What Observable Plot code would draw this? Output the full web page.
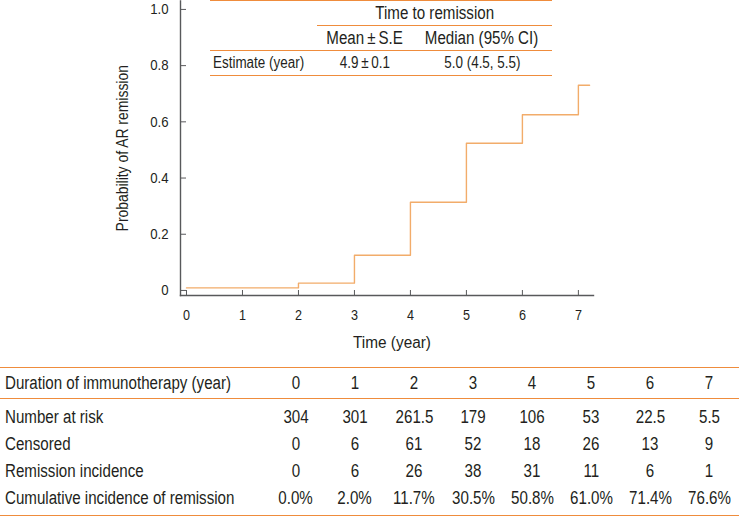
<!DOCTYPE html>
<html><head><meta charset="utf-8">
<script src="https://cdn.jsdelivr.net/npm/d3@7"></script>
<script src="https://cdn.jsdelivr.net/npm/@observablehq/plot@0.6"></script>
<style>
body{margin:0;background:#fff;font-family:"Liberation Sans",Arial,sans-serif;color:#231f20;}
#wrap{position:relative;width:739px;height:517px;overflow:hidden;background:#fff}
#chart{height:355px}
span.s{display:inline-block;transform:scaleX(0.84);transform-origin:50% 50%}
td.lab span.s{transform-origin:0 50%}
#inset{position:absolute;left:210px;top:0;width:342px;border-collapse:collapse;font-size:16px;table-layout:fixed}
#inset td{padding:0;height:24px;text-align:center;white-space:nowrap}
#inset tr.r1 td, #inset tr.r2 td{font-size:18px}
#inset td.lab{text-align:left;padding-left:3px}
#inset tr.top td{border-top:1.5px solid #ef8c3c}
#inset tr.r1 td.span{border-bottom:1.5px solid #ef8c3c}
#inset tr.r2 td{border-bottom:1.5px solid #ef8c3c}
#inset tr.r3 td{border-bottom:1.5px solid #ef8c3c}
#bottom{position:absolute;left:0;top:367px;width:739px;border-collapse:collapse;font-size:18px;table-layout:fixed}
#bottom td{padding:0;height:27px;text-align:center;white-space:nowrap}
#bottom td.lab{text-align:left;padding-left:5px}
#bottom thead td{border-top:1.5px solid #ef8c3c;border-bottom:1.5px solid #ef8c3c;height:30px}
#bottom tbody tr:first-child td{padding-top:5px}
#bottom tbody tr:last-child td{border-bottom:1.5px solid #ef8c3c;padding-bottom:3px}
</style></head><body>
<div id="wrap"><div id="chart"></div></div>
<script>
// Curve
const times = [0, 2, 3, 4, 5, 6, 7, 7.2];
const probs = [0.009, 0.026, 0.125, 0.314, 0.524, 0.625, 0.73, 0.73];
const xTicks = [0, 1, 2, 3, 4, 5, 6, 7];
const yTicks = [0, 0.2, 0.4, 0.6, 0.8, 1.0];
const yTickLabels = ["0", "0.2", "0.4", "0.6", "0.8", "1.0"];

// Inset table
const insetTitle = "Time to remission";
const insetHeads = ["Mean\u2009±\u2009S.E", "Median (95% CI)"];
const insetRowLabel = "Estimate (year)";
const insetValues = ["4.9\u2009±\u20090.1", "5.0 (4.5, 5.5)"];

// Bottom table
const tableHeadLabel = "Duration of immunotherapy (year)";
const durations = ["0", "1", "2", "3", "4", "5", "6", "7"];
const rowLabels = ["Number at risk", "Censored", "Remission incidence", "Cumulative incidence of remission"];
const atRisk = ["304", "301", "261.5", "179", "106", "53", "22.5", "5.5"];
const censored = ["0", "6", "61", "52", "18", "26", "13", "9"];
const remission = ["0", "6", "26", "38", "31", "11", "6", "1"];
const cumulative = ["0.0%", "2.0%", "11.7%", "30.5%", "50.8%", "61.0%", "71.4%", "76.6%"];

const W = 739, H = 355, mL = 180, mR = 146, mT = 0.5, mB = 60;
const frameH = H - mT - mB, frameW = W - mL - mR;
const axisColor = "#58595b";
const font = '"Liberation Sans",Arial,sans-serif';
const curveData = times.map((t, i) => ({t, p: probs[i]}));

const plot = Plot.plot({
  width: W, height: H, marginLeft: mL, marginRight: mR, marginTop: mT, marginBottom: mB,
  style: {fontFamily: font, fontSize: "13px", color: "#231f20", background: "transparent"},
  x: {domain: [-0.107, 7.27]},
  y: {domain: [-0.018, 1.03]},
  marks: [
    Plot.frame({anchor: "left", stroke: axisColor, strokeWidth: 1.4}),
    Plot.frame({anchor: "bottom", stroke: axisColor, strokeWidth: 1.4}),
    Plot.ruleX(xTicks, {x: d => d, insetTop: frameH - 5, stroke: axisColor}),
    Plot.ruleY(yTicks, {y: d => d, insetRight: frameW - 6, stroke: axisColor}),
    Plot.axisX(xTicks, {tickSize: 0, tickPadding: 15, label: "Time (year)", labelAnchor: "center", labelOffset: 52, labelArrow: "none"}),
    Plot.axisY(yTicks, {tickSize: 0, tickPadding: 12, tickFormat: d => yTickLabels[yTicks.indexOf(d)], label: "Probability of AR remission", labelAnchor: "center", labelOffset: 64, labelArrow: "none"}),
    Plot.line(curveData, {x: "t", y: "p", curve: "step-after", stroke: "#f2ac6a", strokeWidth: 1.4})
  ]
});
document.getElementById("chart").appendChild(plot);

// Condensed look for SVG texts (font size and horizontal squeeze per group)
plot.querySelectorAll("text").forEach(t => {
  let lab = "";
  for (let n = t; n && n !== plot; n = n.parentNode) {
    if (n.getAttribute && n.getAttribute("aria-label")) { lab = n.getAttribute("aria-label"); break; }
  }
  let st;
  if (lab.includes("tick")) st = lab.startsWith("y") ? [15, 0.88] : [14, 0.9];
  else if (lab.startsWith("y")) st = [16, 0.87];
  else { st = [16, 0.96]; t.setAttribute("dx", 5); }
  t.style.fontFamily = font;
  t.style.fontSize = st[0] + "px";
  t.style.fill = "#231f20";
  const L = t.getComputedTextLength();
  t.setAttribute("textLength", (L * st[1]).toFixed(2));
  t.setAttribute("lengthAdjust", "spacingAndGlyphs");
});

// Inset table
const wrap = d3.select("#wrap");
const cell = (tr, txt, cls) => {
  const td = tr.append("td");
  if (cls) td.attr("class", cls);
  if (txt != null) td.append("span").attr("class", "s").text(txt);
  return td;
};
const inset = wrap.append("table").attr("id", "inset");
const cg = inset.append("colgroup");
[107, 95, 140].forEach(w => cg.append("col").style("width", w + "px"));
const r1 = inset.append("tr").attr("class", "top r1");
cell(r1, null);
cell(r1, insetTitle, "span").attr("colspan", 2);
const r2 = inset.append("tr").attr("class", "r2");
cell(r2, null);
insetHeads.forEach(h => cell(r2, h));
const r3 = inset.append("tr").attr("class", "r3");
cell(r3, insetRowLabel, "lab");
insetValues.forEach(v => cell(r3, v));

// Bottom table
const tb = wrap.append("table").attr("id", "bottom");
const cg2 = tb.append("colgroup");
cg2.append("col").style("width", "266px");
durations.forEach(() => cg2.append("col").style("width", "59px"));
const hr = tb.append("thead").append("tr");
cell(hr, tableHeadLabel, "lab");
durations.forEach(d => cell(hr, d));
const body = tb.append("tbody");
[atRisk, censored, remission, cumulative].forEach((vals, i) => {
  const tr = body.append("tr");
  cell(tr, rowLabels[i], "lab");
  vals.forEach(v => cell(tr, v));
});
</script>
</body></html>
